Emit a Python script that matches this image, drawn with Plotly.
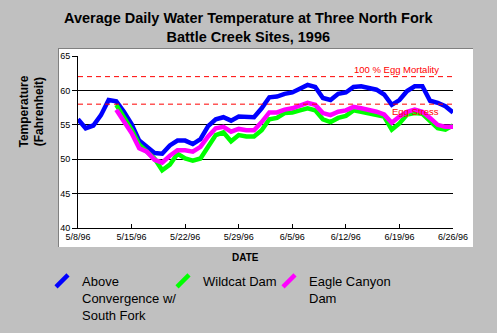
import pandas as pd
import plotly.graph_objects as go

# Daily dates, 5/8/96 through 6/26/96
dates = pd.date_range("1996-05-08", "1996-06-26", freq="D")

# Average daily water temperature (deg F)
above_convergence = [
    55.8, 54.5, 54.9, 56.4, 58.6, 58.4, 56.9, 55.1, 52.7, 51.8,
    50.9, 50.8, 52.0, 52.7, 52.7, 52.2, 52.9, 54.8, 55.8, 56.1,
    55.6, 56.2, 56.1, 56.1, 57.4, 59.0, 59.1, 59.5, 59.7, 60.2,
    60.8, 60.5, 58.9, 58.6, 59.5, 59.7, 60.5, 60.6, 60.3, 60.1,
    59.4, 57.9, 58.6, 59.9, 60.6, 60.6, 58.5, 58.2, 57.7, 56.8,
]
# Wildcat Dam and Eagle Canyon Dam records begin 5/13/96
wildcat_dam = [
    57.9, 56.2, 54.3, 52.1, 51.1, 50.1, 48.4, 49.2,
    50.8, 50.1, 49.8, 50.1, 51.8, 53.5, 53.9, 52.6, 53.5, 53.3, 53.3, 54.2,
    55.8, 56.0, 56.7, 56.8, 57.1, 57.4, 57.1, 55.8, 55.4, 56.0, 56.3, 57.1,
    56.9, 56.7, 56.5, 56.2, 54.3, 55.2, 56.5, 56.7, 56.6, 55.5, 54.5, 54.3, 54.9,
]
eagle_canyon_dam = [
    57.2, 55.5, 53.8, 51.6, 51.1, 49.9, 49.5, 50.5,
    51.3, 51.3, 51.1, 51.8, 53.3, 54.5, 54.7, 54.0, 54.4, 54.2, 54.2, 55.4,
    56.8, 56.8, 57.2, 57.4, 57.8, 58.2, 57.9, 56.7, 56.4, 56.9, 57.1, 57.6,
    57.4, 57.2, 56.9, 56.5, 55.3, 56.2, 56.9, 57.2, 56.9, 56.0, 55.0, 54.7, 54.7,
]
late_start = 5

series_names = ["Above<br>Convergence w/<br>South Fork", "Wildcat Dam",
                "Eagle Canyon<br>Dam"]
series_colors = ["#0000ff", "#00ff00", "#ff00ff"]

# Threshold temperatures
egg_mortality_temp = 62
egg_stress_temp = 58

tick_dates = pd.date_range("1996-05-08", "1996-06-26", freq="7D")
tick_labels = ["5/8/96", "5/15/96", "5/22/96", "5/29/96",
               "6/5/96", "6/12/96", "6/19/96", "6/26/96"]

W, H = 497, 333
ML, MR, MT, MB = 78, 44, 56, 105
PW, PH = W - ML - MR, H - MT - MB


def px_x(p):
    return (p - ML) / PW


def px_y(p):
    return (H - MB - p) / PH


FONT = "Liberation Sans, Arial, sans-serif"

fig = go.Figure()
series = [
    (dates, above_convergence),
    (dates[late_start:], wildcat_dam),
    (dates[late_start:], eagle_canyon_dam),
]
legend_ids = ["legend", "legend2", "legend3"]
for (xs, ys), name, color, lid in zip(series, series_names, series_colors,
                                      legend_ids):
    fig.add_trace(go.Scatter(
        x=xs, y=ys, mode="lines", name=name, legendgroup=lid,
        showlegend=False, line=dict(color=color, width=4.5)))
    # legend key: a short slanted stroke in the series colour
    fig.add_trace(go.Scatter(
        x=[None], y=[None], mode="markers", name=name, legendgroup=lid,
        legend=lid,
        marker=dict(symbol="line-ne", size=12,
                    line=dict(color=color, width=4.5))))

legend_style = dict(
    orientation="v", xanchor="left", yanchor="top", valign="top",
    bgcolor="rgba(0,0,0,0)", borderwidth=0,
    font=dict(family=FONT, size=13, color="black"),
    itemwidth=30, tracegroupgap=0,
)
fig.update_layout(
    legend=dict(x=px_x(42), y=px_y(266), **legend_style),
    legend2=dict(x=px_x(163), y=px_y(266), **legend_style),
    legend3=dict(x=px_x(269), y=px_y(266), **legend_style),
)

shapes = [
    # white chart panel with a darker top/left edge
    dict(type="rect", xref="paper", yref="paper",
         x0=px_x(58), x1=px_x(473), y0=px_y(247), y1=px_y(48),
         fillcolor="white", line=dict(width=0), layer="below"),
    dict(type="line", xref="paper", yref="paper",
         x0=px_x(58), x1=px_x(473), y0=px_y(48.5), y1=px_y(48.5),
         line=dict(color="#808080", width=1), layer="below"),
    dict(type="line", xref="paper", yref="paper",
         x0=px_x(58.5), x1=px_x(58.5), y0=px_y(247), y1=px_y(48),
         line=dict(color="#808080", width=1), layer="below"),
]
for temp in (egg_mortality_temp, egg_stress_temp):
    shapes.append(dict(type="line", xref="paper", yref="y",
                       x0=0, x1=1, y0=temp, y1=temp,
                       line=dict(color="#ff0000", width=1, dash="5px,4px")))

annotations = [
    dict(text="<b>Average Daily Water Temperature at Three North Fork<br>"
              "Battle Creek Sites, 1996</b>",
         xref="paper", yref="paper", x=px_x(248.5), y=px_y(8),
         xanchor="center", yanchor="top", showarrow=False,
         font=dict(family=FONT, size=14.5, color="black")),
    dict(text="100 % Egg Mortality", xref="paper", yref="y",
         x=px_x(441), y=egg_mortality_temp, xanchor="right", yanchor="bottom",
         showarrow=False,
         font=dict(family=FONT, size=9.5, color="#ff0000")),
    dict(text="Egg Stress", xref="paper", yref="y",
         x=px_x(441), y=egg_stress_temp, xanchor="right", yanchor="top",
         showarrow=False,
         font=dict(family=FONT, size=9.5, color="#ff0000")),
    dict(text="<b>DATE</b>", xref="paper", yref="paper",
         x=px_x(245), y=px_y(257.5), xanchor="center", yanchor="middle",
         showarrow=False, font=dict(family=FONT, size=10, color="black")),
    dict(text="<b>Temperature<br>(Fahrenheit)</b>", xref="paper", yref="paper",
         x=px_x(31.5), y=px_y(112), xanchor="center", yanchor="middle",
         textangle=-90, showarrow=False,
         font=dict(family=FONT, size=12, color="black")),
]

fig.update_layout(
    width=W, height=H,
    margin=dict(l=ML, r=MR, t=MT, b=MB, pad=0, autoexpand=False),
    paper_bgcolor="#c0c0c0", plot_bgcolor="white",
    font=dict(family=FONT, size=9, color="black"),
    shapes=shapes, annotations=annotations,
    xaxis=dict(range=[dates[0], dates[-1]], tickvals=tick_dates,
               ticktext=tick_labels, ticks="inside", ticklen=4,
               tickcolor="black", showgrid=False, showline=True,
               linecolor="black", linewidth=1, zeroline=False,
               tickfont=dict(family=FONT, size=9), fixedrange=True),
    yaxis=dict(range=[40, 65], dtick=5, ticks="outside", ticklen=5,
               tickcolor="black", showgrid=True, gridcolor="black",
               gridwidth=1, showline=True, linecolor="black", linewidth=1,
               zeroline=False, tickfont=dict(family=FONT, size=9),
               fixedrange=True),
    showlegend=True,
)

fig.write_html("out.html")
